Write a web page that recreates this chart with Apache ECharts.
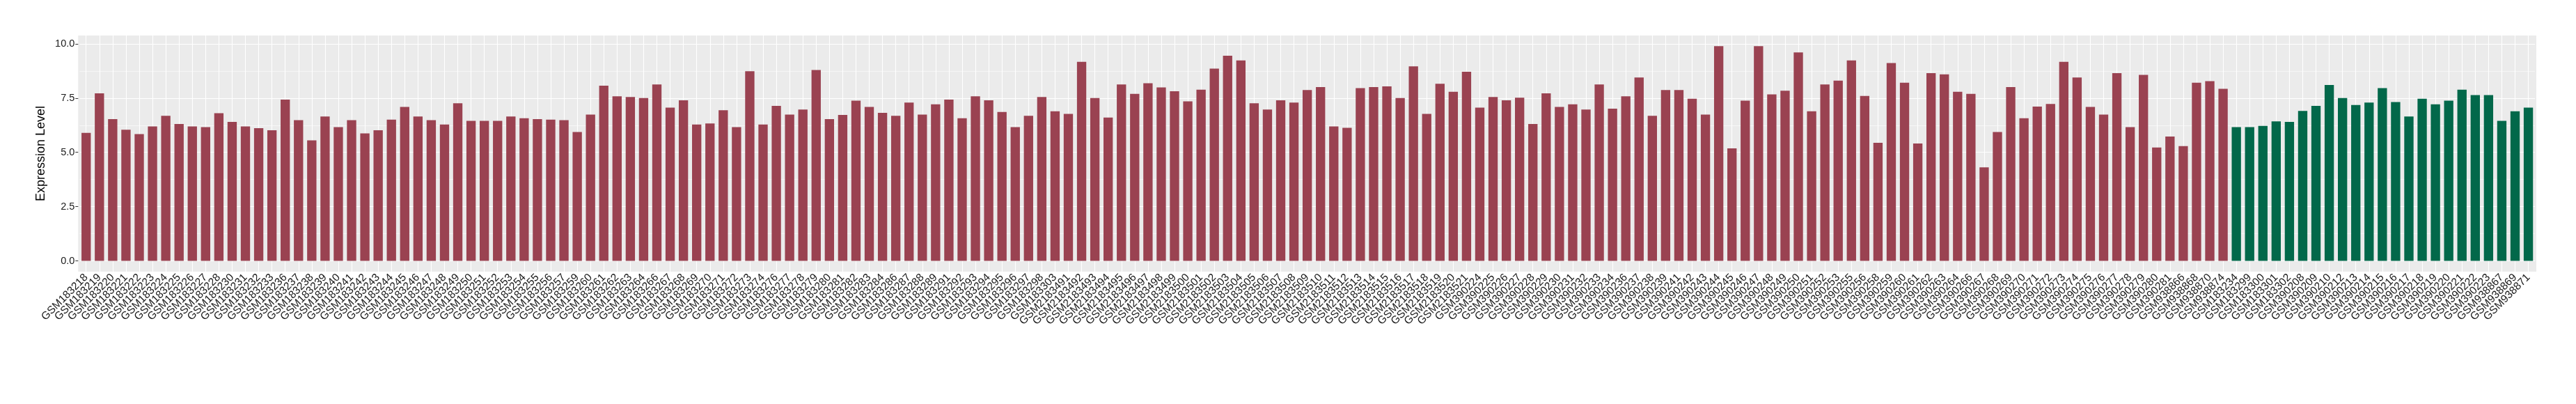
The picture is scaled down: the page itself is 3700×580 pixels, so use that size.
<!DOCTYPE html>
<html>
<head>
<meta charset="utf-8">
<script src="https://cdn.jsdelivr.net/npm/echarts@6/dist/echarts.min.js"></script>
<style>
html,body{margin:0;padding:0;background:#fff;}
#chart{width:3700px;height:580px;}
</style>
</head>
<body>
<div id="chart"></div>
<script>
// ---- data ----
const categoriesA = [
 'GSM183218','GSM183219','GSM183220','GSM183221','GSM183222','GSM183223','GSM183224','GSM183225','GSM183226','GSM183227','GSM183228','GSM183230','GSM183231','GSM183232','GSM183233',
 'GSM183236','GSM183237','GSM183238','GSM183239','GSM183240','GSM183241','GSM183242','GSM183243','GSM183244','GSM183245','GSM183246','GSM183247','GSM183248','GSM183249','GSM183250','GSM183251','GSM183252','GSM183253','GSM183254','GSM183255','GSM183256',
 'GSM183257','GSM183259','GSM183260','GSM183261','GSM183262','GSM183263','GSM183264','GSM183266','GSM183267','GSM183268','GSM183269','GSM183270','GSM183271','GSM183272','GSM183273','GSM183274','GSM183276','GSM183277','GSM183278','GSM183279','GSM183280',
 'GSM183281','GSM183282','GSM183283','GSM183284','GSM183286','GSM183287','GSM183288','GSM183289','GSM183291','GSM183292','GSM183293','GSM183294','GSM183295','GSM183296','GSM183297','GSM183298','GSM183303','GSM2183491','GSM2183492','GSM2183493','GSM2183494',
 'GSM2183495','GSM2183496','GSM2183497','GSM2183498','GSM2183499','GSM2183500','GSM2183501','GSM2183502','GSM2183503','GSM2183504','GSM2183505','GSM2183506','GSM2183507','GSM2183508','GSM2183509','GSM2183510','GSM2183511','GSM2183512','GSM2183513','GSM2183514','GSM2183515',
 'GSM2183516','GSM2183517','GSM2183518','GSM2183519','GSM2183520','GSM2183521','GSM390224','GSM390225','GSM390226','GSM390227','GSM390228','GSM390229','GSM390230','GSM390231','GSM390232','GSM390233','GSM390234','GSM390236','GSM390237','GSM390238','GSM390239',
 'GSM390241','GSM390242','GSM390243','GSM390244','GSM390245','GSM390246','GSM390247','GSM390248','GSM390249','GSM390250','GSM390251','GSM390252','GSM390253','GSM390255','GSM390256','GSM390258','GSM390259','GSM390260','GSM390261','GSM390262','GSM390263',
 'GSM390264','GSM390266','GSM390267','GSM390268','GSM390269','GSM390270','GSM390271','GSM390272','GSM390273','GSM390274','GSM390275','GSM390276','GSM390277','GSM390278','GSM390279','GSM390280','GSM390281','GSM938866','GSM938868','GSM938870','GSM938874'
];
const valuesA = [
 5.90,7.72,6.53,6.04,5.84,6.19,6.68,6.31,6.19,6.16,6.80,6.40,6.19,6.11,6.02,
 7.43,6.48,5.55,6.65,6.16,6.48,5.87,6.02,6.51,7.09,6.65,6.48,6.28,7.26,6.45,6.45,6.45,6.65,6.57,6.53,6.51,
 6.48,5.94,6.74,8.07,7.58,7.55,7.50,8.13,7.06,7.40,6.28,6.33,6.94,6.16,8.74,6.28,7.14,6.74,6.97,8.79,6.53,
 6.72,7.38,7.09,6.82,6.68,7.29,6.74,7.21,7.43,6.57,7.58,7.40,6.86,6.16,6.68,7.55,6.89,6.77,9.17,7.50,6.60,
 8.13,7.69,8.18,7.99,7.81,7.35,7.89,8.86,9.45,9.23,7.26,6.97,7.40,7.29,7.87,8.01,6.19,6.13,7.96,8.01,8.04,
 7.50,8.96,6.77,8.16,7.79,8.71,7.06,7.55,7.40,7.52,6.31,7.72,7.09,7.21,6.97,8.13,7.01,7.58,8.45,6.68,7.87,
 7.87,7.47,6.74,9.89,5.18,7.38,9.89,7.67,7.84,9.60,6.89,8.13,8.30,9.23,7.60,5.44,9.11,8.21,5.41,8.65,8.59,
 7.79,7.69,4.31,5.94,8.01,6.57,7.11,7.23,9.17,8.45,7.09,6.74,8.65,6.16,8.57,5.22,5.73,5.29,8.21,8.28,7.93
];
const categoriesB = [
 'GSM183234','GSM183299','GSM183300','GSM183301','GSM183302','GSM390208','GSM390209','GSM390210','GSM390212','GSM390213','GSM390214','GSM390215',
 'GSM390216','GSM390217','GSM390218','GSM390219','GSM390220','GSM390221','GSM390222','GSM390223','GSM938867','GSM938869','GSM938871'
];
const valuesB = [
 6.16,6.16,6.22,6.43,6.40,6.91,7.14,8.10,7.50,7.18,7.29,7.96,
 7.32,6.65,7.47,7.21,7.38,7.89,7.64,7.64,6.45,6.89,7.06
];
const yMajorTicks = [0, 2.5, 5, 7.5, 10];
const yMinorTicks = [1.25, 3.75, 6.25, 8.75];
const yAxisTitle = 'Expression Level';

// ---- derived ----
const categories = categoriesA.concat(categoriesB);
const seriesA = valuesA.concat(categoriesB.map(() => null));
const seriesB = categoriesA.map(() => null).concat(valuesB);

const COL_A = '#9A4251';
const COL_B = '#02684A';
const FONT = 'Liberation Sans, Arial, Helvetica, sans-serif';

// panel geometry (ggplot-like discrete expansion of 0.6 each side)
const panelLeft = 112.3, panelTop = 51, panelW = 3530.7, panelH = 339;
const n = categories.length;
const step = panelW / (n - 1 + 1.2);
const gridLeft = panelLeft + 0.1 * step;
const gridW = n * step;

const gridLines = [];
yMajorTicks.forEach(v => gridLines.push({yAxis: v, lineStyle: {width: 1.1}}));
yMinorTicks.forEach(v => gridLines.push({yAxis: v, lineStyle: {width: 0.55}}));
categories.forEach((c, i) => gridLines.push({xAxis: i, lineStyle: {width: 1.1}}));

const chart = echarts.init(document.getElementById('chart'), null, {renderer: 'canvas'});
chart.setOption({
  animation: false,
  backgroundColor: '#ffffff',
  textStyle: {fontFamily: FONT},
  graphic: {
    elements: [{
      type: 'rect', z: -100, silent: true,
      shape: {x: panelLeft, y: panelTop, width: panelW, height: panelH},
      style: {fill: '#EBEBEB'}
    }]
  },
  grid: {left: gridLeft, top: panelTop, width: gridW, height: panelH, containLabel: false, show: false},
  xAxis: {
    type: 'category',
    data: categories,
    boundaryGap: true,
    axisLine: {show: false},
    axisTick: {show: true, alignWithLabel: true, length: 4, lineStyle: {color: '#333333', width: 1}},
    axisLabel: {interval: 0, rotate: 45, fontSize: 15.5, color: '#1a1a1a', margin: 6, fontFamily: FONT},
    splitLine: {show: false}
  },
  yAxis: {
    type: 'value',
    min: -0.494,
    max: 10.38,
    offset: gridLeft - panelLeft,
    axisLine: {show: false},
    axisTick: {show: true, length: 4, customValues: yMajorTicks, lineStyle: {color: '#333333', width: 1}},
    axisLabel: {fontSize: 14.5, color: '#1a1a1a', margin: 5, customValues: yMajorTicks,
      formatter: v => Number(v).toFixed(1), fontFamily: FONT},
    splitLine: {show: false},
    name: yAxisTitle,
    nameLocation: 'middle',
    nameRotate: 90,
    nameGap: 40,
    nameTextStyle: {fontSize: 18, color: '#000000', fontFamily: FONT}
  },
  series: [
    {
      type: 'line', z: 1, silent: true, symbol: 'none',
      data: categories.map(() => null),
      lineStyle: {opacity: 0},
      markLine: {
        z: 1,
        silent: true, symbol: ['none', 'none'], label: {show: false},
        lineStyle: {color: '#ffffff', type: 'solid'},
        emphasis: {disabled: true},
        animation: false,
        data: gridLines
      }
    },
    {type: 'bar', z: 3, stack: 'g', barWidth: '70%', data: seriesA, itemStyle: {color: COL_A}, silent: true},
    {type: 'bar', z: 3, stack: 'g', barWidth: '70%', data: seriesB, itemStyle: {color: COL_B}, silent: true}
  ]
});
</script>
</body>
</html>
